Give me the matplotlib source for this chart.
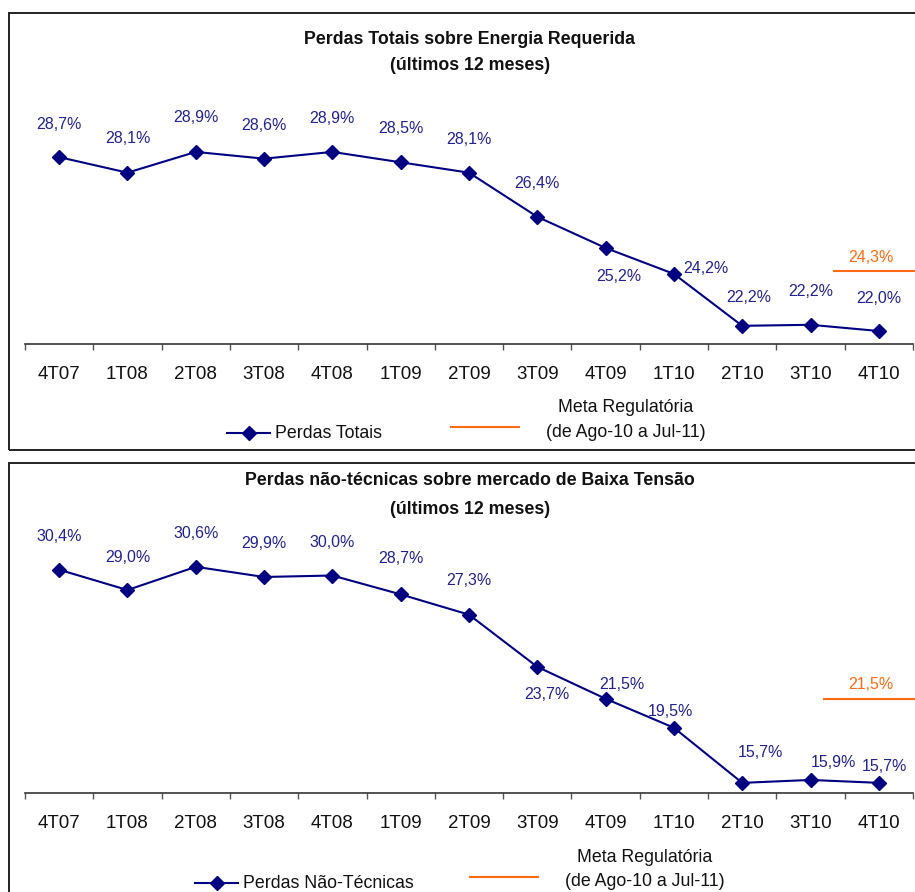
import numpy as np
import matplotlib
matplotlib.use("Agg")
import matplotlib.pyplot as plt
from matplotlib.lines import Line2D
from matplotlib.patches import Rectangle

plt.rcParams['font.family'] = ['Liberation Sans', 'DejaVu Sans']

# dados
quarters = ["4T07", "1T08", "2T08", "3T08", "4T08", "1T09", "2T09",
            "3T09", "4T09", "1T10", "2T10", "3T10", "4T10"]
perdas_totais = [28.7, 28.1, 28.9, 28.64, 28.9, 28.5, 28.1,
                 26.4, 25.2, 24.2, 22.2, 22.24, 22.0]
perdas_nao_tecnicas = [30.4, 29.0, 30.6, 29.9, 30.0, 28.7, 27.3,
                       23.7, 21.5, 19.5, 15.7, 15.9, 15.7]
meta_totais = 24.3
meta_nao_tecnicas = 21.5

titulo_1 = ["Perdas Totais sobre Energia Requerida", "(últimos 12 meses)"]
titulo_2 = ["Perdas não-técnicas sobre mercado de Baixa Tensão", "(últimos 12 meses)"]
legenda_1 = "Perdas Totais"
legenda_2 = "Perdas Não-Técnicas"
legenda_meta = ["Meta Regulatória", "(de Ago-10 a Jul-11)"]

# offsets dos rótulos (pixels)
off_1 = [(0, 33), (0, 34), (0, 34), (0, 33), (0, 33), (0, 34), (0, 33),
         (0, 33), (13, -29), (32, 5), (7, 28), (0, 33), (0, 33)]
off_2 = [(0, 33), (0, 33), (0, 33), (0, 33), (0, 33), (0, 36), (0, 34),
         (10, -28), (16, 14), (-3, 16), (18, 30), (23, 17), (6, 16)]

W, H = 915, 892
NAVY = "#000080"
LABEL = "#222290"
ORANGE = "#ff6a13"
FS_LABEL = 11.5
FS_TICK = 13.5
FS_TITLE = 12.8
FS_LEG = 12.8


def fx(x):
    return x / W


def fy(y):
    return 1 - y / H


fig = plt.figure(figsize=(W / 100, H / 100), dpi=100)


def fmt(v):
    return f"{v:.1f}%".replace(".", ",")


def panel(top, ax_top, ax_bottom, ylim, values, offsets, meta, meta_x0,
          title_y, title, leg_label, leg_x, meta_cx):
    # moldura
    fig.add_artist(Rectangle((fx(9), fy(top + 437)), fx(920 - 9), 437 / H,
                             transform=fig.transFigure, fill=False,
                             edgecolor="#222222", lw=1.4))

    ax = fig.add_axes([fx(25), fy(ax_bottom), fx(913 - 25), (ax_bottom - ax_top) / H])
    x = np.arange(len(quarters))
    ax.plot(x, values, color=NAVY, lw=1.5, marker="D", ms=7.5,
            markerfacecolor=NAVY, markeredgecolor=NAVY, clip_on=False)
    for i, v in enumerate(values):
        dx, dy = offsets[i]
        ax.annotate(fmt(v), (i, v), xytext=(dx, dy), textcoords="offset pixels",
                    ha="center", va="center", fontsize=FS_LABEL, color=LABEL)

    # meta regulatoria
    last = len(quarters) - 1
    ax.plot([meta_x0, last + 0.53], [meta, meta], color=ORANGE, lw=1.5, clip_on=False)
    ax.annotate(fmt(meta), (last, meta), xytext=(-8, 14), textcoords="offset pixels",
                ha="center", va="center", fontsize=FS_LABEL, color=ORANGE)

    ax.set_xlim(-0.5, len(quarters) - 0.5)
    ax.set_ylim(*ylim)
    for s in ["left", "top", "right"]:
        ax.spines[s].set_visible(False)
    ax.spines["bottom"].set_color("#333333")
    ax.spines["bottom"].set_linewidth(1.2)
    ax.set_yticks([])
    ax.set_xticks(np.arange(-0.5, len(quarters), 1))
    ax.set_xticklabels([])
    ax.tick_params(axis="x", which="major", direction="out", length=4.5,
                   width=1, color="#555555")
    ax.set_xticks(x, minor=True)
    ax.set_xticklabels(quarters, minor=True, fontsize=FS_TICK, color="#111111")
    ax.tick_params(axis="x", which="minor", length=0, pad=16)

    # titulo
    fig.text(fx(470), fy(title_y[0]), title[0], ha="center", va="center",
             fontsize=FS_TITLE, fontweight="bold", color="#111111")
    fig.text(fx(470), fy(title_y[1]), title[1], ha="center", va="center",
             fontsize=FS_TITLE, fontweight="bold", color="#111111")

    # legenda
    ly = top + 420
    fig.add_artist(Line2D([fx(leg_x), fx(leg_x + 43)], [fy(ly), fy(ly)],
                          transform=fig.transFigure, color=NAVY, lw=1.5))
    fig.add_artist(Line2D([fx(leg_x + 21.5)], [fy(ly)], transform=fig.transFigure,
                          color=NAVY, marker="D", ms=7.5))
    fig.text(fx(leg_x + 48), fy(ly), leg_label, ha="left", va="center",
             fontsize=FS_LEG, color="#111111")
    ox = meta_cx - 175
    fig.add_artist(Line2D([fx(ox), fx(ox + 68)], [fy(ly - 6), fy(ly - 6)],
                          transform=fig.transFigure, color=ORANGE, lw=1.5))
    fig.text(fx(meta_cx), fy(ly - 25), legenda_meta[0], ha="center", va="center",
             fontsize=FS_LEG, color="#111111")
    fig.text(fx(meta_cx), fy(ly - 1), legenda_meta[1], ha="center", va="center",
             fontsize=FS_LEG, color="#111111")
    return ax


panel(13, 100, 344, (21.5, 30.9), perdas_totais, off_1, meta_totais, 11.35,
      (39, 66), titulo_1, legenda_1, 227, 626)
panel(463, 540, 793, (15.0, 32.45), perdas_nao_tecnicas, off_2, meta_nao_tecnicas, 11.2,
      (481, 509), titulo_2, legenda_2, 195, 645)

fig.savefig("out.png", dpi=100)
